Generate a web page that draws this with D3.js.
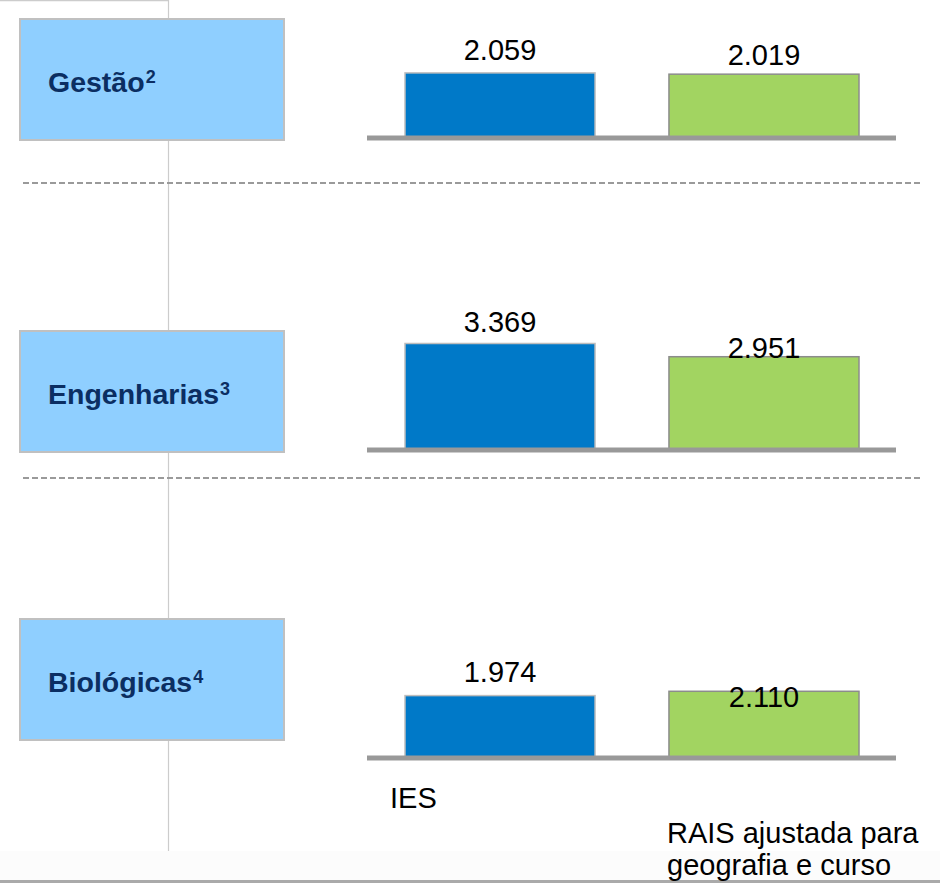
<!DOCTYPE html>
<meta charset="utf-8">
<body style="margin:0;background:#fff">
<script src="https://cdn.jsdelivr.net/npm/d3@7"></script>
<script>

// data
var categories = ['Gestão', 'Engenharias', 'Biológicas'];
var notes = ['2', '3', '4'];
var series = ['IES', 'RAIS ajustada para geografia e curso'];
var iesValues = [2059, 3369, 1974];
var raisValues = [2019, 2951, 2110];

// layout (pixel positions of each group, taken from the slide)
var baseY = [138, 450, 758];
var boxTop = [19, 331, 619];
var labelDy = [[-13, -9], [-12, 1], [-14, 16]];
var dashY = [183, 478];

var W = 940, H = 883;
var svg = d3.select('body').append('svg')
    .attr('width', W).attr('height', H)
    .style('display', 'block')
    .style('font-family', '"Liberation Sans", Arial, sans-serif');

var fmt = d3.formatLocale({decimal: ',', thousands: '.', grouping: [3], currency: ['', '']}).format(',');

var x = d3.scaleBand().domain(series).range([405, 859]).paddingInner(0.28).paddingOuter(0);
var h = d3.scaleLinear().domain([0, 3369]).range([0, 106.5]);
var colors = ['#0079c8', '#a2d461'];
var strokes = ['#bdbdbd', '#8c8c8c'];

// frame bits
svg.append('rect').attr('x', 0).attr('y', 851).attr('width', W).attr('height', 29).attr('fill', '#fcfcfc');
svg.append('rect').attr('x', 0).attr('y', 880).attr('width', W).attr('height', 3).attr('fill', '#aaaaaa');
svg.append('line').attr('x1', 0).attr('x2', 168.5).attr('y1', 0.5).attr('y2', 0.5)
  .attr('stroke', '#cccccc').attr('stroke-width', 1.5);
svg.append('line').attr('x1', 168.5).attr('x2', 168.5).attr('y1', 0).attr('y2', 851)
  .attr('stroke', '#cccccc').attr('stroke-width', 1.2);

svg.selectAll('.dash').data(dashY).enter().append('line')
  .attr('x1', 23).attr('x2', 920)
  .attr('y1', d => d).attr('y2', d => d)
  .attr('stroke', '#9a9a9a').attr('stroke-width', 2)
  .attr('stroke-dasharray', '6,3');

// category boxes
categories.forEach(function(c, i) {
  svg.append('rect')
    .attr('x', 20).attr('y', boxTop[i])
    .attr('width', 264).attr('height', 121)
    .attr('fill', '#8fcfff').attr('stroke', '#c0c0c0').attr('stroke-width', 2);
  var t = svg.append('text')
    .attr('x', 48).attr('y', boxTop[i] + 73)
    .attr('fill', '#0b2e62').attr('font-weight', 'bold').attr('font-size', 28.5);
  t.append('tspan').text(c);
  t.append('tspan').text(notes[i]).attr('font-size', 18).attr('dy', -9).attr('dx', 1);
});

// bars
categories.forEach(function(c, i) {
  var vals = [iesValues[i], raisValues[i]];
  var g = svg.append('g');
  g.selectAll('rect').data(vals).enter().append('rect')
    .attr('x', (d, j) => x(series[j]))
    .attr('y', d => baseY[i] - h(d))
    .attr('width', x.bandwidth())
    .attr('height', d => h(d))
    .attr('fill', (d, j) => colors[j])
    .attr('stroke', (d, j) => strokes[j])
    .attr('stroke-width', 1.5);
  g.append('line')
    .attr('x1', 367).attr('x2', 896)
    .attr('y1', baseY[i]).attr('y2', baseY[i])
    .attr('stroke', '#999999').attr('stroke-width', 5);
  g.selectAll('text').data(vals).enter().append('text')
    .attr('x', (d, j) => x(series[j]) + x.bandwidth() / 2)
    .attr('y', (d, j) => baseY[i] - h(d) + labelDy[i][j])
    .attr('text-anchor', 'middle')
    .attr('font-size', 29)
    .attr('fill', '#000')
    .text(d => fmt(d));
});

// series labels under the last group
svg.append('text').attr('x', 390).attr('y', 808).attr('font-size', 29).text(series[0]);
var rais = svg.append('text').attr('x', 667).attr('y', 843).attr('font-size', 29);
rais.append('tspan').text('RAIS ajustada para');
rais.append('tspan').attr('x', 667).attr('dy', 32).text('geografia e curso');

</script>
</body>
</html>
